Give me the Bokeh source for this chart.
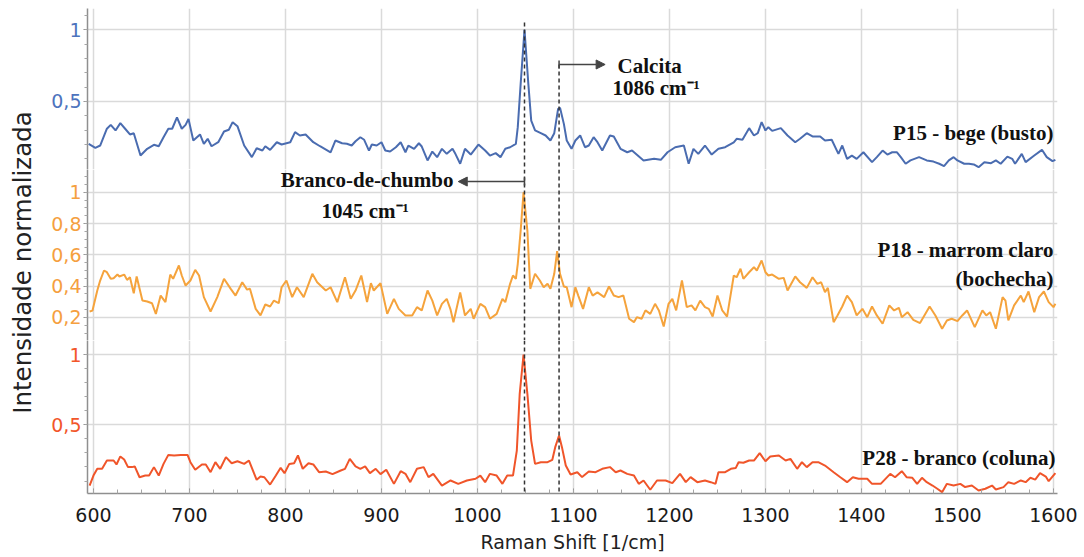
import math
from bokeh.plotting import figure
from bokeh.layouts import column, row
from bokeh.models import (Range1d, FixedTicker, SingleIntervalTicker, CustomJSTickFormatter,
                          Span, Arrow, NormalHead, TeeHead, Label)
from bokeh.embed import file_html
from bokeh.resources import INLINE

# ---------------- data ----------------
p15_x = [595, 602, 607, 614, 618, 623, 628, 633, 638, 642, 649, 656, 663, 668, 673, 678, 682, 687, 692,
         696, 699, 704, 711, 715, 719, 723, 730, 736, 741, 745, 750, 757, 765, 770, 776, 779, 784, 791,
         796, 805, 810, 815, 821, 829, 836, 847, 852, 859, 864, 869, 873, 878, 882, 887, 890, 895, 900,
         904, 909, 915, 920, 925, 928, 934, 939, 942, 948, 953, 958, 963, 968, 974, 977, 982, 987, 993,
         1001, 1008, 1013, 1019, 1024, 1029, 1034, 1040, 1042, 1045, 1049, 1053, 1056, 1060, 1066, 1071,
         1076, 1080, 1084, 1086, 1090, 1093, 1098, 1102, 1107, 1112, 1116, 1121, 1125, 1130, 1138, 1142,
         1149, 1156, 1161, 1173, 1184, 1191, 1198, 1206, 1215, 1220, 1225, 1230, 1237, 1244, 1251, 1258,
         1267, 1270, 1276, 1283, 1288, 1292, 1296, 1300, 1303, 1307, 1316, 1323, 1331, 1336, 1343, 1349,
         1357, 1362, 1369, 1376, 1380, 1385, 1390, 1395, 1402, 1411, 1416, 1422, 1427, 1432, 1437, 1441,
         1446, 1451, 1460, 1468, 1475, 1481, 1486, 1491, 1496, 1500, 1507, 1512, 1517, 1522, 1528, 1535,
         1540, 1545, 1552, 1557, 1560, 1567, 1571, 1580, 1588, 1593, 1599, 1602]
p15_y = [0.205, 0.177, 0.193, 0.31, 0.337, 0.298, 0.349, 0.31, 0.27, 0.279, 0.123, 0.17, 0.198, 0.188,
         0.251, 0.31, 0.31, 0.39, 0.31, 0.337, 0.379, 0.228, 0.27, 0.205, 0.24, 0.188, 0.216, 0.291, 0.303,
         0.356, 0.328, 0.193, 0.112, 0.174, 0.158, 0.188, 0.163, 0.216, 0.2, 0.216, 0.286, 0.263, 0.27,
         0.216, 0.188, 0.146, 0.228, 0.209, 0.205, 0.193, 0.223, 0.251, 0.233, 0.158, 0.2, 0.193, 0.216,
         0.158, 0.151, 0.181, 0.216, 0.146, 0.193, 0.17, 0.209, 0.186, 0.089, 0.151, 0.112, 0.17, 0.135,
         0.17, 0.135, 0.066, 0.17, 0.13, 0.2, 0.158, 0.123, 0.14, 0.112, 0.17, 0.181, 0.205, 0.321, 0.623,
         1.0, 0.623, 0.367, 0.298, 0.279, 0.263, 0.228, 0.279, 0.449, 0.456, 0.344, 0.228, 0.17, 0.228,
         0.263, 0.181, 0.193, 0.251, 0.216, 0.158, 0.263, 0.256, 0.17, 0.146, 0.158, 0.089, 0.1, 0.093,
         0.146, 0.181, 0.193, 0.066, 0.17, 0.135, 0.193, 0.13, 0.17, 0.181, 0.215, 0.24, 0.233, 0.314,
         0.263, 0.279, 0.356, 0.298, 0.321, 0.295, 0.314, 0.263, 0.216, 0.24, 0.279, 0.256, 0.256, 0.228,
         0.233, 0.135, 0.193, 0.1, 0.123, 0.1, 0.146, 0.077, 0.112, 0.158, 0.13, 0.146, 0.146, 0.112,
         0.066, 0.089, 0.112, 0.089, 0.081, 0.066, 0.05, 0.089, 0.112, 0.089, 0.066, 0.066, 0.061, 0.042,
         0.077, 0.07, 0.089, 0.066, 0.116, 0.1, 0.066, 0.135, 0.077, 0.123, 0.163, 0.112, 0.084, 0.093]

p18_x = [596, 599, 604, 607, 611, 614, 618, 621, 625, 627, 632, 635, 638, 642, 645, 651, 656, 661, 665,
         670, 675, 680, 683, 689, 692, 696, 701, 706, 710, 715, 722, 729, 736, 743, 748, 755, 760, 763,
         769, 774, 779, 784, 788, 793, 796, 801, 807, 812, 819, 828, 833, 842, 847, 854, 862, 868, 873,
         879, 885, 889, 892, 899, 906, 913, 918, 925, 932, 937, 942, 948, 953, 958, 963, 968, 972, 975,
         982, 987, 993, 996, 1003, 1008, 1013, 1020, 1026, 1029, 1034, 1037, 1040, 1042, 1045, 1048,
         1052, 1055, 1060, 1065, 1069, 1073, 1076, 1080, 1083, 1086, 1090, 1093, 1098, 1102, 1105, 1110,
         1116, 1120, 1125, 1132, 1137, 1142, 1147, 1152, 1158, 1163, 1166, 1171, 1175, 1180, 1185, 1189,
         1194, 1199, 1203, 1207, 1213, 1218, 1223, 1227, 1232, 1237, 1241, 1245, 1250, 1255, 1260, 1267,
         1270, 1274, 1277, 1283, 1288, 1291, 1296, 1300, 1303, 1307, 1314, 1319, 1323, 1331, 1336, 1343,
         1349, 1354, 1358, 1362, 1365, 1371, 1375, 1380, 1385, 1390, 1395, 1401, 1406, 1411, 1416, 1422,
         1429, 1434, 1439, 1442, 1448, 1454, 1461, 1471, 1477, 1484, 1489, 1494, 1500, 1505, 1510, 1518,
         1526, 1530, 1534, 1540, 1547, 1550, 1553, 1559, 1566, 1569, 1574, 1580, 1585, 1590, 1595, 1600,
         1602]
p18_y = [0.238, 0.244, 0.372, 0.436, 0.5, 0.489, 0.447, 0.451, 0.474, 0.462, 0.474, 0.44, 0.457, 0.355,
         0.462, 0.308, 0.302, 0.291, 0.223, 0.34, 0.298, 0.474, 0.447, 0.532, 0.468, 0.404, 0.436, 0.504,
         0.468, 0.33, 0.238, 0.33, 0.447, 0.383, 0.34, 0.425, 0.378, 0.383, 0.255, 0.213, 0.283, 0.27,
         0.308, 0.291, 0.393, 0.436, 0.33, 0.393, 0.33, 0.479, 0.425, 0.372, 0.393, 0.298, 0.457, 0.319,
         0.372, 0.468, 0.298, 0.419, 0.372, 0.419, 0.223, 0.319, 0.255, 0.213, 0.213, 0.266, 0.245, 0.372,
         0.308, 0.213, 0.287, 0.319, 0.25, 0.17, 0.36, 0.213, 0.255, 0.192, 0.287, 0.266, 0.192, 0.223,
         0.319, 0.298, 0.415, 0.468, 0.447, 0.543, 0.755, 1.0, 0.755, 0.383, 0.479, 0.436, 0.393, 0.415,
         0.383, 0.479, 0.623, 0.479, 0.398, 0.393, 0.266, 0.393, 0.34, 0.255, 0.393, 0.34, 0.36, 0.33,
         0.398, 0.34, 0.33, 0.34, 0.192, 0.17, 0.202, 0.192, 0.245, 0.223, 0.287, 0.245, 0.142, 0.287,
         0.319, 0.245, 0.436, 0.266, 0.277, 0.245, 0.308, 0.266, 0.255, 0.206, 0.34, 0.245, 0.206, 0.468,
         0.457, 0.511, 0.447, 0.489, 0.521, 0.5, 0.564, 0.489, 0.468, 0.474, 0.447, 0.453, 0.372, 0.462,
         0.425, 0.389, 0.457, 0.415, 0.425, 0.362, 0.389, 0.17, 0.213, 0.27, 0.34, 0.298, 0.213, 0.255,
         0.202, 0.27, 0.213, 0.16, 0.277, 0.245, 0.262, 0.202, 0.234, 0.185, 0.164, 0.27, 0.213, 0.128,
         0.181, 0.192, 0.177, 0.213, 0.245, 0.138, 0.245, 0.213, 0.234, 0.128, 0.33, 0.308, 0.181, 0.277,
         0.34, 0.298, 0.366, 0.234, 0.33, 0.366, 0.298, 0.266, 0.287]

p28_x = [596, 600, 604, 609, 614, 621, 624, 628, 632, 636, 640, 643, 648, 654, 658, 663, 668, 673, 678,
         684, 691, 698, 701, 706, 713, 717, 722, 727, 732, 738, 744, 750, 757, 762, 770, 774, 778, 784,
         790, 795, 799, 804, 809, 813, 818, 824, 829, 835, 842, 849, 857, 862, 867, 873, 878, 883, 888,
         894, 899, 905, 913, 920, 925, 930, 937, 944, 949, 954, 963, 972, 980, 989, 998, 1003, 1008, 1013,
         1020, 1026, 1031, 1037, 1041, 1044, 1048, 1052, 1056, 1060, 1066, 1073, 1078, 1081, 1085, 1088,
         1092, 1097, 1104, 1109, 1116, 1123, 1130, 1138, 1144, 1149, 1156, 1163, 1168, 1173, 1180, 1187,
         1196, 1203, 1211, 1217, 1222, 1229, 1237, 1243, 1248, 1251, 1258, 1264, 1269, 1272, 1277, 1283,
         1288, 1294, 1300, 1305, 1314, 1321, 1326, 1333, 1338, 1343, 1349, 1355, 1362, 1371, 1378, 1385,
         1391, 1397, 1406, 1411, 1420, 1430, 1435, 1442, 1447, 1453, 1458, 1463, 1468, 1474, 1479, 1484,
         1489, 1496, 1503, 1508, 1515, 1522, 1529, 1536, 1540, 1548, 1553, 1559, 1566, 1571, 1576, 1581,
         1586, 1592, 1595, 1602]
p28_y = [0.068, 0.139, 0.187, 0.187, 0.246, 0.246, 0.218, 0.275, 0.253, 0.199, 0.199, 0.204, 0.127, 0.139,
         0.139, 0.199, 0.139, 0.222, 0.286, 0.282, 0.286, 0.286, 0.234, 0.18, 0.218, 0.218, 0.163, 0.234,
         0.187, 0.27, 0.227, 0.241, 0.222, 0.246, 0.109, 0.132, 0.127, 0.075, 0.139, 0.194, 0.156, 0.222,
         0.227, 0.282, 0.187, 0.227, 0.218, 0.163, 0.168, 0.149, 0.173, 0.187, 0.258, 0.204, 0.187, 0.204,
         0.156, 0.187, 0.149, 0.18, 0.08, 0.17, 0.151, 0.092, 0.187, 0.199, 0.128, 0.151, 0.068, 0.104,
         0.08, 0.104, 0.116, 0.139, 0.092, 0.151, 0.139, 0.08, 0.139, 0.139, 0.317, 0.72, 1.0, 0.72, 0.388,
         0.222, 0.234, 0.234, 0.251, 0.341, 0.424, 0.341, 0.211, 0.147, 0.163, 0.128, 0.168, 0.163, 0.187,
         0.199, 0.163, 0.175, 0.151, 0.139, 0.08, 0.104, 0.038, 0.104, 0.104, 0.085, 0.151, 0.092, 0.128,
         0.092, 0.104, 0.092, 0.08, 0.163, 0.163, 0.187, 0.192, 0.234, 0.23, 0.246, 0.246, 0.298, 0.241,
         0.274, 0.282, 0.246, 0.258, 0.187, 0.234, 0.199, 0.234, 0.234, 0.21, 0.163, 0.127, 0.092, 0.127,
         0.116, 0.116, 0.08, 0.08, 0.151, 0.127, 0.17, 0.127, 0.123, 0.08, 0.123, 0.092, 0.068, 0.045,
         0.021, 0.08, 0.068, 0.08, 0.057, 0.068, 0.033, 0.045, 0.068, 0.04, 0.057, 0.092, 0.08, 0.104,
         0.092, 0.123, 0.11, 0.156, 0.132, 0.099, 0.156]

x_ticks_interval = 100
p15_ticks = [0.5, 1.0]
p18_ticks = [0.2, 0.4, 0.6, 0.8, 1.0]
p28_ticks = [0.5, 1.0]

lead_peak = 1049      # Branco-de-chumbo marker
calcite_peak = 1085   # Calcita marker

# ---------------- styling ----------------
BLUE, BLUE_T = "#4a6cb0", "#4d73bd"
ORANGE, ORANGE_T = "#f5a33c", "#f5a03f"
RED, RED_T = "#f0552a", "#f2562a"
GRID = "#dadada"
AXIS = "#8f8f8f"
AX_FONT = "DejaVu Sans"
SERIF = "Liberation Serif"

LEFT_W = 40          # strip that holds the shared y-axis title
W = 1084 - LEFT_W

xr = Range1d(593.8, 1604.2)
fmt = CustomJSTickFormatter(code="return (Math.round(tick*100)/100).toString().replace('.', ',');")


def panel(height, yr, top, bottom, major, minor, tcolor):
    p = figure(width=W, height=height, x_range=xr, y_range=Range1d(*yr),
               output_backend="svg", toolbar_location=None,
               min_border_left=87 - LEFT_W, min_border_right=27,
               min_border_top=top, min_border_bottom=bottom)
    p.outline_line_color = None
    p.xaxis.ticker = SingleIntervalTicker(interval=x_ticks_interval, num_minor_ticks=4)
    p.yaxis.ticker = FixedTicker(ticks=major, minor_ticks=minor)
    p.yaxis.formatter = fmt
    p.yaxis.major_label_text_color = tcolor
    p.yaxis.major_label_text_font = AX_FONT
    p.yaxis.major_label_text_font_size = "19px"
    p.yaxis.major_label_standoff = 2
    p.yaxis.axis_line_color = AXIS
    p.yaxis.axis_line_width = 1.5
    p.yaxis.major_tick_line_color = AXIS
    p.yaxis.major_tick_out = 4
    p.yaxis.major_tick_in = 0
    p.yaxis.minor_tick_line_color = "#a5a5a5"
    p.yaxis.minor_tick_out = 3
    p.yaxis.minor_tick_in = 0
    for g in (p.xgrid, p.ygrid):
        g.grid_line_color = GRID
        g.grid_line_width = 1.5
    return p


p1 = panel(169, (0.0258, 1.1485), 8, 0, p15_ticks, [0.1 * i for i in range(1, 12)], BLUE_T)
p2 = panel(171, (0.053, 1.145), 0, 0, p18_ticks, [0.05 * i for i in range(1, 23)], ORANGE_T)
p3 = panel(217, (0.0114, 1.0996), 0, 64, p28_ticks, [0.1 * i for i in range(1, 11)], RED_T)

for p in (p1, p2):
    p.xaxis.visible = False

ax = p3.xaxis[0]
ax.axis_line_color = AXIS
ax.axis_line_width = 1.5
ax.major_tick_line_color = AXIS
ax.major_tick_in = 5
ax.major_tick_out = 0
ax.minor_tick_line_color = "#a5a5a5"
ax.minor_tick_in = 4
ax.minor_tick_out = 0
ax.major_label_text_font = AX_FONT
ax.major_label_text_font_size = "19px"
ax.major_label_text_color = "#1a1a1a"
ax.major_label_standoff = 14
ax.axis_label = "Raman Shift [1/cm]"
ax.axis_label_text_font = AX_FONT
ax.axis_label_text_font_size = "19px"
ax.axis_label_text_font_style = "normal"
ax.axis_label_text_color = "#222222"
ax.axis_label_standoff = 6

# shared y-axis title in its own narrow strip
p0 = figure(width=LEFT_W, height=557, x_range=Range1d(0, 1), y_range=Range1d(0, 557),
            output_backend="svg", toolbar_location=None, min_border=0,
            x_axis_location=None, y_axis_location=None)
p0.outline_line_color = None
p0.xgrid.visible = False
p0.ygrid.visible = False
p0.add_layout(Label(x=22 / LEFT_W, y=557 - 262, text="Intensidade normalizada", angle=math.pi / 2,
                    text_align="center", text_baseline="middle", text_font=AX_FONT,
                    text_font_size="24.5px", text_color="#222222"))

p1.line(p15_x, p15_y, line_color=BLUE, line_width=2)
p2.line(p18_x, p18_y, line_color=ORANGE, line_width=2)
p3.line(p28_x, p28_y, line_color=RED, line_width=2)

DASH = dict(line_color="#333333", line_width=1.5, line_dash="4 3")
p1.segment(x0=[lead_peak], y0=[1.051], x1=[lead_peak], y1=[-1], **DASH)
p1.segment(x0=[calcite_peak], y0=[0.758], x1=[calcite_peak], y1=[-1], **DASH)
for p in (p2, p3):
    for loc in (lead_peak, calcite_peak):
        p.add_layout(Span(location=loc, dimension="height", **DASH))

p1.add_layout(Arrow(start=TeeHead(size=8, line_color="#444444", line_width=1.5),
                    end=NormalHead(size=9, fill_color="#444444", line_color="#444444"),
                    x_start=calcite_peak, y_start=0.758, x_end=1133, y_end=0.758,
                    line_color="#444444", line_width=1.5))
p2.add_layout(Arrow(start=TeeHead(size=8, line_color="#444444", line_width=1.5),
                    end=NormalHead(size=9, fill_color="#444444", line_color="#444444"),
                    x_start=lead_peak, y_start=1.068, x_end=980, y_end=1.068,
                    line_color="#444444", line_width=1.5))


def lab(p, x, y, text, align="left", size="21px"):
    p.add_layout(Label(x=x, y=y, text=text, text_align=align, text_baseline="middle",
                       text_font=SERIF, text_font_style="bold", text_font_size=size,
                       text_color="#111111"))


lab(p1, 1146, 0.751, "Calcita")
lab(p1, 1140.6, 0.591, "1086 cm\u207b\u00b9")
lab(p1, 1600, 0.277, "P15 - bege (busto)", "right", "21px")
lab(p2, 975, 1.075, "Branco-de-chumbo", "right")
lab(p2, 883, 0.883, "1045 cm\u207b\u00b9", "center")
lab(p2, 1600, 0.628, "P18 - marrom claro", "right", "21px")
lab(p2, 1600, 0.443, "(bochecha)", "right", "21px")
lab(p3, 1602, 0.267, "P28 - branco (coluna)", "right", "21px")

layout = row(p0, column(p1, p2, p3, spacing=0), spacing=0)
open("out.html", "w").write(file_html(layout, INLINE))
